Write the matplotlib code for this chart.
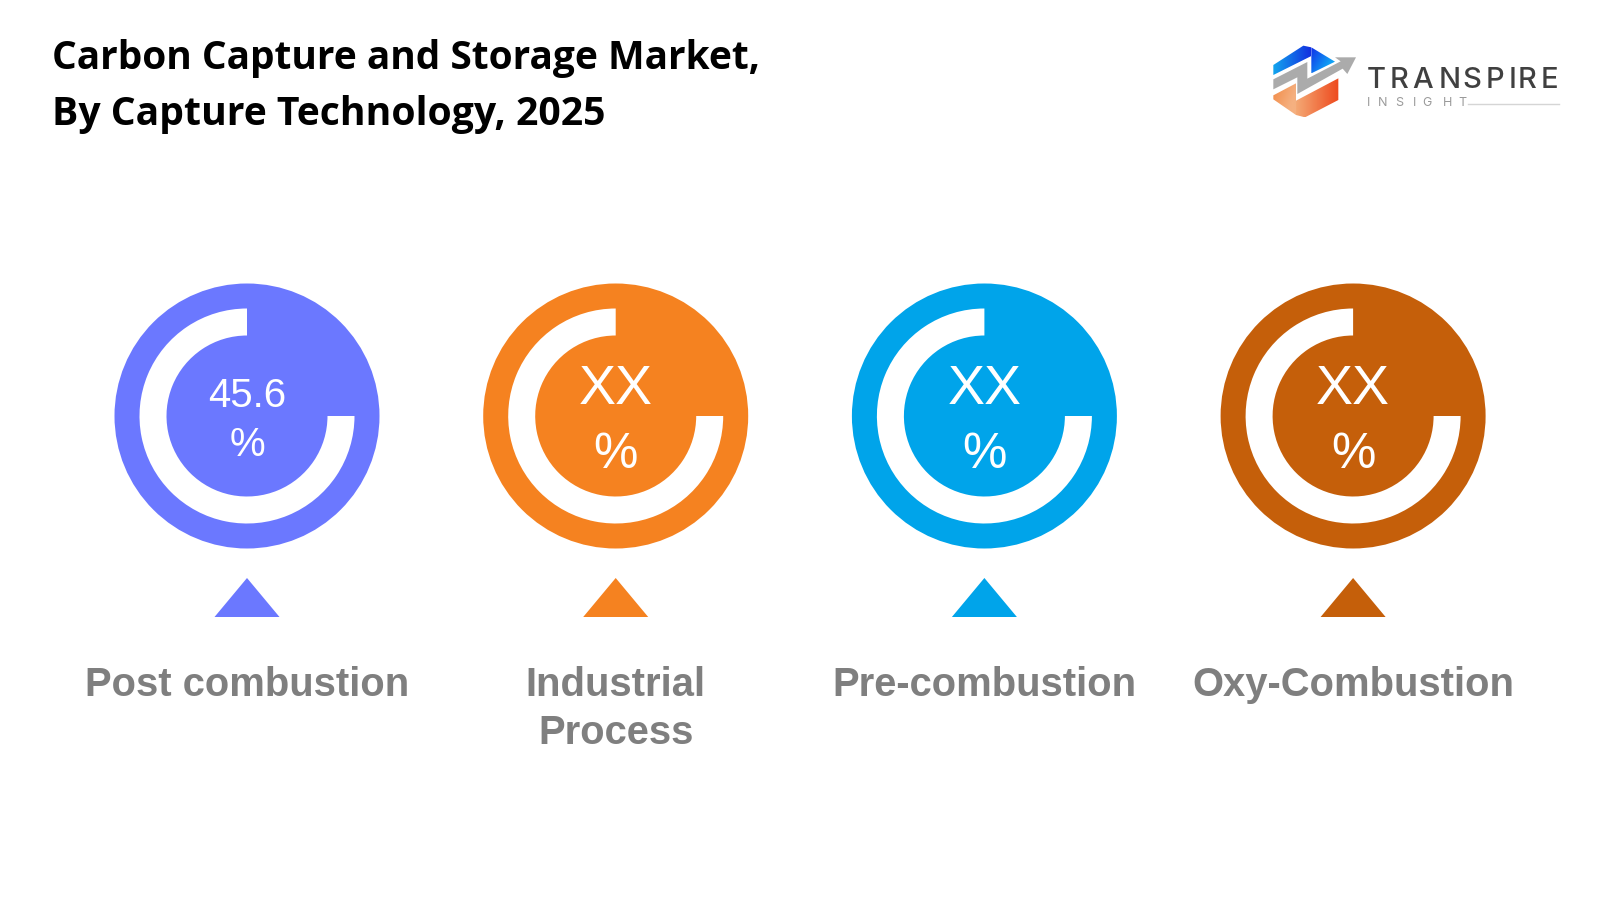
import numpy as np
from matplotlib import pyplot as plt
from matplotlib.colors import to_rgb
from matplotlib.patches import Circle, Wedge, Polygon

categories = ["Post combustion", "Industrial\nProcess", "Pre-combustion", "Oxy-Combustion"]
value_labels = ["45.6\n%", "XX\n%", "XX\n%", "XX\n%"]
ring_shares = [75, 75, 75, 75]
colors = ["#6B78FF", "#F58220", "#00A4EA", "#C55F0A"]

fig = plt.figure(figsize=(16, 9), dpi=100)
# one axes over the whole canvas, units are pixels
ax = fig.add_axes([0, 0, 1, 1])
ax.axis("off")

ax.text(52, 58, "Carbon Capture and Storage Market,", family="Open Sans", weight="bold",
        fontsize=28, color="black", va="center", ha="left")
ax.text(52, 114, "By Capture Technology, 2025", family="Open Sans", weight="bold",
        fontsize=28.2, color="black", va="center", ha="left")

centers = 247 + 368.7 * np.arange(4)
cy = 416
for i, x in enumerate(centers):
    c = colors[i]
    ax.add_patch(Circle((x, cy), 132.5, fc=c, ec="none"))
    # y axis is flipped, so angles run clockwise on screen: start at 3 o'clock
    ax.add_patch(Wedge((x, cy), 107.5, 0, ring_shares[i] * 3.6, width=27, fc="white", ec="none"))
    ax.add_patch(Polygon([(x - 32.5, 617), (x, 578), (x + 32.5, 617)], fc=c, ec="none"))
    lines = categories[i].split("\n")
    for k, line in enumerate(lines):
        ax.text(x, 685 + 48 * k, line, family="Liberation Sans", weight="bold",
                fontsize=28.8, color="#7F7F7F", ha="center", va="center")
    top, bottom = value_labels[i].split("\n")
    if i == 0:
        ax.text(x, 396, top, family="Liberation Sans", fontsize=29, color="white", ha="center", va="center")
        ax.text(x, 445, bottom, family="Liberation Sans", fontsize=29, color="white", ha="center", va="center")
    else:
        ax.text(x, 390, top, family="Liberation Sans", fontsize=40, color="white", ha="center", va="center")
        ax.text(x, 455, bottom, family="Liberation Sans", fontsize=36, color="white", ha="center", va="center")


# logo, shapes traced on a 3x crop of the corner
def logo_xy(pts):
    return [(1220 + a / 3, 20 + b / 3) for a, b in pts]


def gradient_patch(pts, c0, c1, angle):
    patch = Polygon(logo_xy(pts), fc="none", ec="none")
    ax.add_patch(patch)
    xy = np.array(logo_xy(pts))
    x0, x1, y0, y1 = xy[:, 0].min(), xy[:, 0].max(), xy[:, 1].min(), xy[:, 1].max()
    u, v = np.meshgrid(np.linspace(0, 1, 40), np.linspace(0, 1, 40))
    t = np.clip(u * np.cos(angle) + v * np.sin(angle), 0, 1)[..., None]
    img = np.array(to_rgb(c0)) * (1 - t) + np.array(to_rgb(c1)) * t
    im = ax.imshow(img, extent=(x0, x1, y1, y0), aspect="auto", zorder=2)
    im.set_clip_path(patch)


gradient_patch([(160, 165), (160, 135), (250, 77), (274, 82), (274, 108), (160, 165)], "#12A5EE", "#1230E0", 0.0)
gradient_patch([(274, 82), (345, 125), (274, 160)], "#1030E8", "#10A0F5", 0.6)
gradient_patch([(160, 226), (228, 190), (228, 285), (160, 238)], "#F28A45", "#F5B080", 0.5)
gradient_patch([(228, 242), (355, 175), (355, 240), (255, 292), (228, 285)], "#F4A874", "#EE4A1E", 0.0)
ax.add_patch(Polygon(logo_xy([(160, 178), (262, 126), (262, 176), (362, 124), (345, 112), (408, 112),
                              (382, 162), (368, 146), (232, 222), (232, 172), (160, 208)]),
                     fc="#ABABAB", ec="none", zorder=3))

# logo lettering is tracked out, so each letter gets its own spot
for ch, left in zip("TRANSPIRE", [440, 509, 577, 657, 727, 797, 865, 894, 962]):
    ax.text(1220 + left / 3, 80, ch, family="Inter", weight="medium", fontsize=21,
            color="#404040", ha="left", va="center")
for ch, left in zip("INSIGHT", [441, 473, 525, 578, 608, 670, 716]):
    ax.text(1220 + left / 3, 103.5, ch, family="Inter", fontsize=9, color="#9A9A9A", ha="left", va="center")
ax.plot([1468, 1559], [103.5, 103.5], color="#D5D5D5", lw=1)

ax.set_xlim(0, 1600)
ax.set_ylim(900, 0)
fig.savefig("out.png", dpi=100, facecolor="white")
